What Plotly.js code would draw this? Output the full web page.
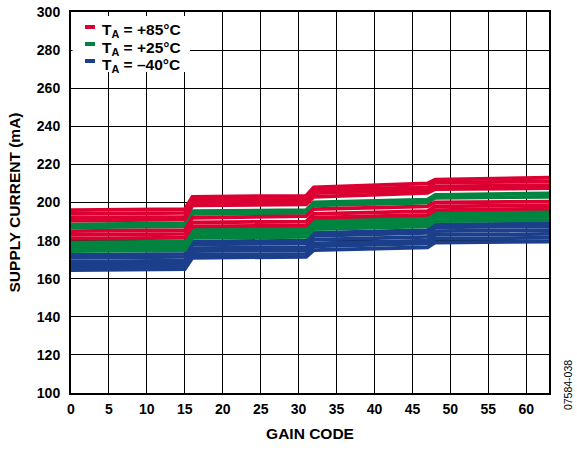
<!DOCTYPE html>
<html>
<head>
<meta charset="utf-8">
<script src="https://cdn.plot.ly/plotly-3.0.1.min.js"></script>
<style>html,body{margin:0;padding:0;background:#fff;}#chart{width:577px;height:452px;}</style>
</head>
<body>
<div id="chart"></div>
<script>
// Gain codes at which values were read (segment ends around the steps)
const gainCode = [0, 15, 16, 31, 32, 47, 48, 63];

// T_A = +85°C curves (mA)
const red85 = [
  [196, 196.5, 203, 203.5, 208, 210, 212, 213],
  [194, 194.5, 201.5, 202, 206.5, 208, 210.5, 211],
  [192, 192.5, 200, 200.5, 205, 206.5, 208.5, 209],
  [190.5, 191, 198.5, 199, 203, 205, 207, 207.5],
  [185, 185.5, 192, 192.8, 196.5, 198, 200, 200.5],
  [183, 183.5, 189.5, 190, 194, 195.5, 198, 198.5],
  [181, 181.5, 187.5, 188, 192, 193.5, 196, 196.8]
];

// T_A = +25°C curves (mA)
const green25 = [
  [188.5, 189, 195.5, 196, 200, 201.5, 204, 204.8],
  [187, 187.5, 194, 194.5, 198.5, 200, 202.5, 203],
  [179, 179.5, 186, 186.5, 190.5, 192, 195, 195.5],
  [177.5, 178, 184.5, 185, 189, 190.5, 193.5, 194],
  [176, 176.5, 183, 183.5, 187.5, 189, 192, 192.5],
  [174.5, 175, 181.5, 182, 186, 187.5, 190.2, 190.8]
];

// T_A = -40°C curves (mA)
const blueM40 = [
  [172.5, 173, 179.5, 180, 184, 185.5, 188.5, 189],
  [171, 171.5, 178, 178.5, 182.5, 184, 187, 187.5],
  [169, 169.5, 176, 176.5, 180.5, 182, 185, 185.5],
  [167.5, 168, 174.5, 175, 178.5, 180, 183, 183.5],
  [166, 166.5, 172.5, 173, 177, 178.5, 181, 181.5],
  [164.5, 165, 171, 171.5, 175, 176.5, 179, 179.5]
];

const legendNames = ['T<sub>A</sub> = +85°C', 'T<sub>A</sub> = +25°C', 'T<sub>A</sub> = –40°C'];
const xTicks = [0, 5, 10, 15, 20, 25, 30, 35, 40, 45, 50, 55, 60];
const yTicks = [100, 120, 140, 160, 180, 200, 220, 240, 260, 280, 300];

const colors = ['#dc0032', '#00843f', '#1b3f8b'];
const groups = [red85, green25, blueM40];

const traces = [];
// draw blue first, then green, then red on top
[2, 1, 0].forEach(function (g) {
  groups[g].slice().reverse().forEach(function (ys) {
    traces.push({
      x: gainCode, y: ys, type: 'scatter', mode: 'lines',
      line: {color: colors[g], width: 3.8},
      showlegend: false, hoverinfo: 'skip'
    });
  });
});

const fontFam = 'Liberation Sans, Arial, Helvetica, sans-serif';

// legend drawn in paper coordinates (plot area: 71..549 px wide, 12..393 px tall)
const W = 478, H = 381;
const px = function (p) { return (p - 71) / W; };
const py = function (p) { return 1 - (p - 12) / H; };
const legRowsDash = [27, 44, 61];
const legRowsText = [31, 48, 65];

const shapes = [{
  type: 'rect', xref: 'paper', yref: 'paper', layer: 'above',
  x0: px(72.5), x1: px(190), y0: py(72), y1: py(16),
  fillcolor: '#ffffff', line: {width: 0}
}];
const annotations = [];
legendNames.forEach(function (name, i) {
  shapes.push({
    type: 'line', xref: 'paper', yref: 'paper', layer: 'above',
    x0: px(85), x1: px(95), y0: py(legRowsDash[i]), y1: py(legRowsDash[i]),
    line: {color: colors[i], width: 4}
  });
  annotations.push({
    text: name, xref: 'paper', yref: 'paper', x: px(100), y: py(legRowsText[i]),
    xanchor: 'left', yanchor: 'middle', showarrow: false,
    font: {family: fontFam, size: 15.5, color: '#000', weight: 'bold'}
  });
});
annotations.push({
  text: '07584-038', xref: 'paper', yref: 'paper', x: 1.04, y: py(385),
  xanchor: 'center', yanchor: 'middle', textangle: -90, showarrow: false,
  font: {family: fontFam, size: 10.5, color: '#000', weight: 'normal'}
});

const layout = {
  width: 577, height: 452,
  margin: {l: 71, r: 28, t: 12, b: 59},
  paper_bgcolor: '#fff', plot_bgcolor: '#fff',
  font: {family: fontFam, color: '#000', size: 14, weight: 'bold'},
  showlegend: false,
  xaxis: {
    range: [0, 63], tickvals: xTicks, ticktext: xTicks.map(String),
    showgrid: true, gridcolor: '#000', gridwidth: 1,
    showline: true, linecolor: '#000', linewidth: 2, mirror: true,
    zeroline: false, ticks: '', ticklabelstandoff: 2,
    tickfont: {family: fontFam, size: 14, weight: 'bold'},
    title: {text: 'GAIN CODE', font: {family: fontFam, size: 15.5, weight: 'bold'}, standoff: 12}
  },
  yaxis: {
    range: [100, 300], tickvals: yTicks, ticktext: yTicks.map(String),
    showgrid: true, gridcolor: '#000', gridwidth: 1,
    showline: true, linecolor: '#000', linewidth: 2, mirror: true,
    zeroline: false, ticks: '', ticklabelstandoff: 6,
    tickfont: {family: fontFam, size: 14, weight: 'bold'},
    title: {text: 'SUPPLY CURRENT (mA)', font: {family: fontFam, size: 15.5, weight: 'bold'}, standoff: 12}
  },
  shapes: shapes,
  annotations: annotations
};

Plotly.newPlot('chart', traces, layout, {displayModeBar: false, staticPlot: true});
</script>
</body>
</html>
